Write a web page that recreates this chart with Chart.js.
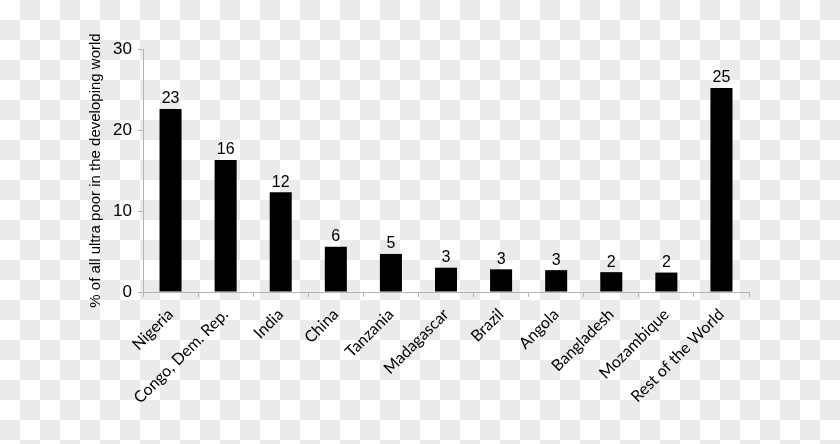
<!DOCTYPE html>
<html>
<head>
<meta charset="utf-8">
<script src="https://cdn.jsdelivr.net/npm/chart.js@4/dist/chart.umd.min.js"></script>
<style>
    html, body { margin: 0; padding: 0; }
    body {
        width: 840px; height: 444px; overflow: hidden;
        background: repeating-conic-gradient(#ebebeb 0 25%, #ffffff 0 50%) 0 0 / 40px 40px;
    }
    #wrap { position: relative; width: 840px; height: 444px; }
</style>
</head>
<body>
<div id="wrap"><canvas id="povChart"></canvas></div>
<script>
// Données
const countries = ['Nigeria', 'Congo, Dem. Rep.', 'India', 'China', 'Tanzania', 'Madagascar',
    'Brazil', 'Angola', 'Bangladesh', 'Mozambique', 'Rest of the World'];
const shares = [22.6, 16.3, 12.3, 5.6, 4.7, 3.0, 2.8, 2.7, 2.45, 2.4, 25.2];
const shareLabels = ['23', '16', '12', '6', '5', '3', '3', '3', '2', '2', '25'];
const yTicks = [0, 10, 20, 30];

const AXIS_GREY = '#b4b4b4';

// Étiquettes au-dessus des barres
const barLabels = {
    id: 'barLabels',
    afterDatasetsDraw(chart) {
        const ctx = chart.ctx;
        const meta = chart.getDatasetMeta(0);
        ctx.save();
        ctx.fillStyle = '#000';
        ctx.font = '16px "Liberation Sans", Arial, sans-serif';
        ctx.textAlign = 'center';
        ctx.textBaseline = 'bottom';
        meta.data.forEach((bar, i) => {
            ctx.fillText(shareLabels[i], bar.x, bar.y - 2);
        });
        ctx.restore();
    }
};

new Chart(document.getElementById('povChart').getContext('2d'), {
    type: 'bar',
    data: {
        labels: countries,
        datasets: [{
            data: shares,
            backgroundColor: '#000',
            borderWidth: 0,
            categoryPercentage: 1,
            barPercentage: 0.4
        }]
    },
    options: {
        responsive: true,
        maintainAspectRatio: false,
        animation: false,
        layout: { padding: { left: 85, top: 49, right: 91, bottom: 0 } },
        plugins: { legend: { display: false }, tooltip: { enabled: false } },
        scales: {
            x: {
                grid: { offset: true, drawOnChartArea: false, drawTicks: true, tickLength: 5, color: AXIS_GREY },
                border: { color: AXIS_GREY },
                ticks: {
                    color: '#000',
                    font: { family: 'Lato, "Open Sans", sans-serif', size: 16 },
                    minRotation: 45, maxRotation: 45, padding: 8
                },
                afterFit: s => { s.height = 152; }
            },
            y: {
                min: 0, max: 30,
                afterBuildTicks: s => { s.ticks = yTicks.map(v => ({ value: v })); },
                grid: { drawOnChartArea: false, drawTicks: true, tickLength: 5, color: AXIS_GREY },
                border: { color: AXIS_GREY },
                ticks: {
                    color: '#000',
                    font: { family: '"Liberation Sans", Arial, sans-serif', size: 17 },
                    padding: 6
                },
                title: {
                    display: true,
                    text: '% of all ultra poor in the developing world',
                    color: '#000',
                    font: { family: '"Liberation Sans", Arial, sans-serif', size: 15 },
                    padding: { top: 2, bottom: 0 }
                },
                afterFit: s => { s.width = 58; }
            }
        }
    },
    plugins: [barLabels]
});
</script>
</body>
</html>
